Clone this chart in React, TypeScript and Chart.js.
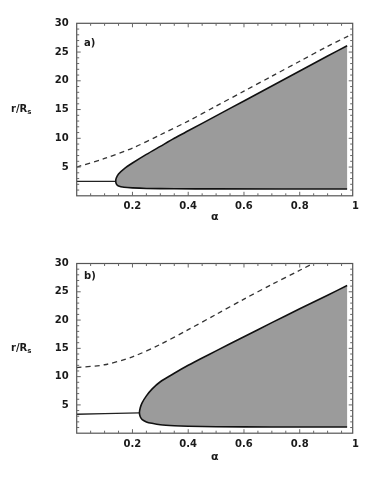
import React, { useEffect, useRef } from "react";
import { Chart, registerables } from "chart.js";

Chart.register(...registerables);

// ---- axis ticks ----
const X_TICKS = [0.2, 0.4, 0.6, 0.8, 1];
const Y_TICKS = [5, 10, 15, 20, 25, 30];
const X_MINOR = [0.05, 0.1, 0.15, 0.2, 0.25, 0.3, 0.35, 0.4, 0.45, 0.5, 0.55, 0.6, 0.65, 0.7, 0.75, 0.8, 0.85, 0.9, 0.95];
const Y_MINOR = [1, 2, 3, 4, 5, 6, 7, 8, 9, 10, 11, 12, 13, 14, 15, 16, 17, 18, 19, 20, 21, 22, 23, 24, 25, 26, 27, 28, 29];
const X_TITLE = "α";
const PANEL_LABELS = ["a)", "b)"];

// ---- panel a ----
const A_UPPER_X = [0.14, 0.142, 0.15, 0.17, 0.2, 0.25, 0.3, 0.35, 0.4, 0.5, 0.6, 0.7, 0.8, 0.9, 0.97];
const A_UPPER_Y = [2.5, 3.1, 3.8, 4.7, 5.7, 7.2, 8.6, 10.0, 11.3, 13.9, 16.5, 19.1, 21.7, 24.3, 26.1];
const A_LOWER_X = [0.14, 0.143, 0.15, 0.17, 0.2, 0.25, 0.35, 0.5, 0.97];
const A_LOWER_Y = [2.5, 2.0, 1.7, 1.48, 1.37, 1.28, 1.22, 1.2, 1.18];
const A_FLAT_X = [0, 0.14];
const A_FLAT_Y = [2.5, 2.5];
const A_DASH_X = [0, 0.1, 0.2, 0.3, 0.4, 0.5, 0.6, 0.7, 0.8, 0.9, 0.975];
const A_DASH_Y = [5.0, 6.5, 8.3, 10.6, 13.0, 15.6, 18.2, 20.8, 23.4, 26.0, 27.8];

// ---- panel b ----
const B_UPPER_X = [0.225, 0.228, 0.235, 0.25, 0.27, 0.3, 0.35, 0.4, 0.45, 0.5, 0.6, 0.7, 0.8, 0.9, 0.97];
const B_UPPER_Y = [3.6, 4.5, 5.4, 6.6, 7.8, 9.1, 10.6, 12.0, 13.3, 14.55, 17.05, 19.55, 22.0, 24.4, 26.1];
const B_LOWER_X = [0.225, 0.228, 0.235, 0.25, 0.27, 0.3, 0.35, 0.4, 0.5, 0.7, 0.97];
const B_LOWER_Y = [3.6, 2.9, 2.4, 2.0, 1.75, 1.5, 1.33, 1.24, 1.15, 1.1, 1.1];
const B_FLAT_X = [0, 0.1, 0.225];
const B_FLAT_Y = [3.35, 3.45, 3.6];
const B_DASH_X = [0, 0.1, 0.2, 0.3, 0.4, 0.5, 0.6, 0.7, 0.8, 0.9];
const B_DASH_Y = [11.6, 12.1, 13.5, 15.7, 18.3, 21.0, 23.7, 26.3, 28.8, 31.3];

const FONT = "'DejaVu Sans', sans-serif";
const TEXT_COLOR = "#1a1a1a";

type Pt = { x: number; y: number };
const zip = (xs: number[], ys: number[]): Pt[] => xs.map((x, i) => ({ x, y: ys[i] }));

const framePlugin = {
  id: "frameTicks",
  afterDraw(chart: any) {
    const { ctx, chartArea: a, scales } = chart;
    const xs = scales.x;
    const ys = scales.y;
    ctx.save();
    ctx.strokeStyle = "#555";
    ctx.lineWidth = 1.2;
    ctx.strokeRect(a.left, a.top, a.right - a.left, a.bottom - a.top);
    ctx.lineWidth = 1;
    ctx.strokeStyle = "#666";
    ctx.beginPath();
    X_MINOR.forEach((v) => {
      const px = xs.getPixelForValue(v);
      const major = Math.abs(v * 5 - Math.round(v * 5)) < 1e-6;
      const len = major ? 4 : 2.5;
      ctx.moveTo(px, a.bottom);
      ctx.lineTo(px, a.bottom - len);
      ctx.moveTo(px, a.top);
      ctx.lineTo(px, a.top + len);
    });
    Y_MINOR.forEach((v) => {
      const py = ys.getPixelForValue(v);
      const len = v % 5 === 0 ? 4 : 2.5;
      ctx.moveTo(a.left, py);
      ctx.lineTo(a.left + len, py);
      ctx.moveTo(a.right, py);
      ctx.lineTo(a.right - len, py);
    });
    ctx.stroke();
    ctx.restore();
  },
};

type PanelProps = {
  upperX: number[];
  upperY: number[];
  lowerX: number[];
  lowerY: number[];
  flatX: number[];
  flatY: number[];
  dashX: number[];
  dashY: number[];
  padTop: number;
  padBottom: number;
  xAxisHeight: number;
};

function Panel(p: PanelProps) {
  const ref = useRef<HTMLCanvasElement | null>(null);
  useEffect(() => {
    if (!ref.current) return;
    const upper = zip(p.upperX, p.upperY);
    const lower = zip(p.lowerX, p.lowerY);
    const region = [...upper.slice().reverse(), ...lower.slice(1)];
    const tickFont = { family: FONT, size: 10, weight: "bold" as const };
    const chart = new Chart(ref.current, {
      type: "scatter",
      data: {
        datasets: [
          {
            data: region,
            showLine: true,
            fill: "shape",
            backgroundColor: "#9b9b9b",
            borderColor: "#111",
            borderWidth: 1.6,
            pointRadius: 0,
            tension: 0.25,
          },
          {
            data: zip(p.flatX, p.flatY),
            showLine: true,
            fill: false,
            borderColor: "#222",
            borderWidth: 1.3,
            pointRadius: 0,
          },
          {
            data: zip(p.dashX, p.dashY),
            showLine: true,
            fill: false,
            borderColor: "#333",
            borderWidth: 1.3,
            borderDash: [5, 4],
            pointRadius: 0,
            tension: 0.3,
          },
        ] as any,
      },
      options: {
        animation: false,
        responsive: false,
        events: [],
        layout: { padding: { left: 0, right: 20.3, top: p.padTop, bottom: p.padBottom } },
        plugins: { legend: { display: false }, tooltip: { enabled: false } },
        scales: {
          x: {
            type: "linear",
            min: 0,
            max: 0.99,
            grid: { display: false, drawTicks: false },
            border: { display: false },
            afterBuildTicks: (s: any) => {
              s.ticks = X_TICKS.map((v) => ({ value: v }));
            },
            afterFit: (s: any) => {
              s.height = p.xAxisHeight;
            },
            ticks: {
              autoSkip: false,
              maxRotation: 0,
              padding: 5,
              color: TEXT_COLOR,
              font: tickFont,
              callback: (v: any) => String(v),
            },
            title: {
              display: true,
              text: X_TITLE,
              color: TEXT_COLOR,
              font: { family: FONT, size: 11, weight: "bold" },
              padding: 0,
            },
          },
          y: {
            type: "linear",
            min: 0,
            max: 30,
            grid: { display: false, drawTicks: false },
            border: { display: false },
            afterBuildTicks: (s: any) => {
              s.ticks = Y_TICKS.map((v) => ({ value: v }));
            },
            afterFit: (s: any) => {
              s.width = 76.7;
            },
            ticks: {
              autoSkip: false,
              padding: 8,
              color: TEXT_COLOR,
              font: tickFont,
            },
          },
        },
      },
      plugins: [framePlugin],
    });
    return () => chart.destroy();
  }, []);
  return <canvas ref={ref} width={373} height={241} style={{ display: "block" }} />;
}

const labelStyle: React.CSSProperties = {
  position: "absolute",
  fontFamily: FONT,
  fontWeight: "bold",
  fontSize: 10,
  color: TEXT_COLOR,
  lineHeight: "12px",
  whiteSpace: "nowrap",
};

function YTitle({ top }: { top: number }) {
  return (
    <div style={{ ...labelStyle, left: 11, top }}>
      r/R<sub style={{ fontSize: 7, verticalAlign: "-2px" }}>s</sub>
    </div>
  );
}

export default function App() {
  return (
    <div style={{ position: "absolute", left: 0, top: 0, width: 373, height: 482, background: "#fff" }}>
      <div style={{ position: "absolute", left: 0, top: 0 }}>
        <Panel
          upperX={A_UPPER_X}
          upperY={A_UPPER_Y}
          lowerX={A_LOWER_X}
          lowerY={A_LOWER_Y}
          flatX={A_FLAT_X}
          flatY={A_FLAT_Y}
          dashX={A_DASH_X}
          dashY={A_DASH_Y}
          padTop={23.3}
          padBottom={17}
          xAxisHeight={28.2}
        />
      </div>
      <div style={{ position: "absolute", left: 0, top: 241 }}>
        <Panel
          upperX={B_UPPER_X}
          upperY={B_UPPER_Y}
          lowerX={B_LOWER_X}
          lowerY={B_LOWER_Y}
          flatX={B_FLAT_X}
          flatY={B_FLAT_Y}
          dashX={B_DASH_X}
          dashY={B_DASH_Y}
          padTop={22.5}
          padBottom={18.3}
          xAxisHeight={30.5}
        />
      </div>
      <div style={{ ...labelStyle, left: 84, top: 37 }}>{PANEL_LABELS[0]}</div>
      <div style={{ ...labelStyle, left: 84, top: 270 }}>{PANEL_LABELS[1]}</div>
      <YTitle top={103} />
      <YTitle top={342} />
    </div>
  );
}
